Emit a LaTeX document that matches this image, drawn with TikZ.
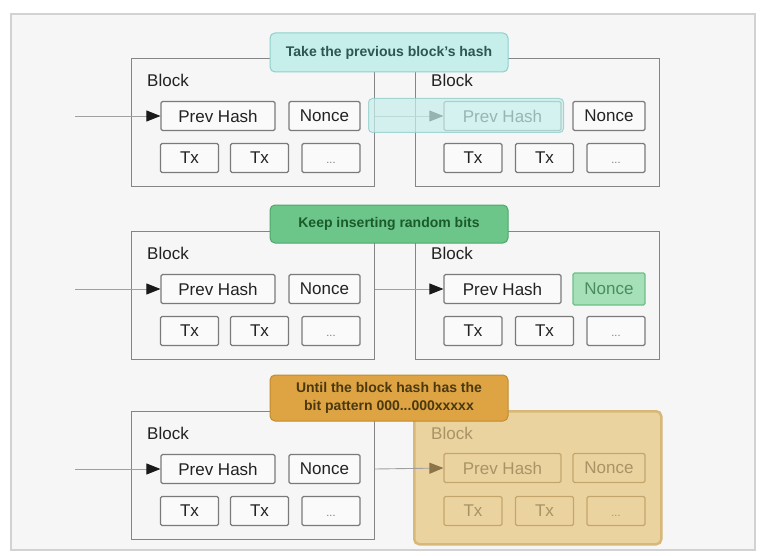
\documentclass[tikz,border=0pt]{standalone}
\usepackage{fontspec}
\setmainfont{Liberation Sans}
\usetikzlibrary{arrows.meta}
\definecolor{blkline}{HTML}{858585}
\definecolor{cellline}{HTML}{7A7A7A}
\definecolor{cellfill}{HTML}{FAFAFA}
\definecolor{txt}{HTML}{222222}
\definecolor{dotc}{HTML}{777777}
\definecolor{connline}{HTML}{A0A0A0}
\definecolor{arrowc}{HTML}{1A1A1A}
\definecolor{framebg}{HTML}{F6F6F6}
\definecolor{frameline}{HTML}{D2D2D2}
\definecolor{cyanfill}{HTML}{C6EFEC}
\definecolor{cyanline}{HTML}{8FCFCB}
\definecolor{cyantext}{HTML}{2C5553}
\definecolor{greenfill}{HTML}{6CC68A}
\definecolor{greenline}{HTML}{4EA86C}
\definecolor{greentext}{HTML}{1B5A2B}
\definecolor{gnfill}{HTML}{A6E0B8}
\definecolor{gnline}{HTML}{6CBF87}
\definecolor{gntext}{HTML}{4A8C5D}
\definecolor{orfill}{HTML}{DEA443}
\definecolor{orline}{HTML}{C28B2F}
\definecolor{ortext}{HTML}{4A3810}
\definecolor{tanfill}{HTML}{EBD3A0}
\definecolor{tanline}{HTML}{D8B878}
\definecolor{tancellc}{HTML}{C4A66C}
\definecolor{tantext}{HTML}{A99365}
\definecolor{tanarrow}{HTML}{8B7548}
\tikzset{
  blk/.style={draw=blkline, line width=1.2pt, inner sep=0pt, anchor=north west},
  tanblk/.style={draw=tanline, fill=tanfill, line width=2.5pt, rounded corners=5pt, inner sep=0pt, anchor=north west},
  cell/.style={draw=cellline, fill=cellfill, line width=1.2pt, rounded corners=1.5pt, inner sep=0pt,
    minimum height=29pt, text=txt, font=\fontsize{17}{20}\selectfont},
  tancell/.style={cell, draw=tancellc, fill=tanfill, text=tantext},
  greencell/.style={cell, draw=gnline, fill=gnfill, text=gntext, minimum height=32pt},
  lbl/.style={anchor=west, inner sep=0pt, text=txt, font=\fontsize{17}{20}\selectfont},
  tanlbl/.style={lbl, text=tantext},
  conn/.style={draw=connline, line width=0.9pt, -{Triangle[length=14pt,width=11pt,color=#1]}},
  conn/.default=arrowc,
  callout/.style={rounded corners=5pt, line width=1pt, minimum width=238pt, inner sep=0pt,
    font=\bfseries\fontsize{14}{18}\selectfont, align=center},
  hl/.style={fill=cyanfill, fill opacity=0.72, draw=cyanline, draw opacity=0.8, line width=1pt,
    rounded corners=4pt, inner sep=0pt, anchor=north west},
}
\newcommand{\dotsbox}{\vphantom{Tx}{\fontsize{11}{13}\selectfont\color{dotc}...}}
\begin{document}
\begin{tikzpicture}[x=1pt,y=-1pt]
\useasboundingbox (0,0) rectangle (765,556);
\fill[white] (0,0) rectangle (765,556);
\draw[fill=framebg, draw=frameline, line width=1.5pt] (11,14) rectangle (755,550);
% left blocks
\foreach \r/\T in {1/58,2/231,3/411}{
  \node[blk, minimum width=243pt, minimum height=128pt] (L\r) at (131,\T) {};
  \node[lbl] (L\r-lbl) at (147,\T+22) {Block};
  \node[cell, minimum width=114pt] (L\r-prev) at (218,\T+58) {Prev Hash};
  \node[cell, minimum width=71pt] (L\r-nonce) at (324.5,\T+58) {Nonce};
  \node[cell, minimum width=58pt] (L\r-tx1) at (189.5,\T+100) {Tx};
  \node[cell, minimum width=58pt] (L\r-tx2) at (259.5,\T+100) {Tx};
  \node[cell, minimum width=58pt] (L\r-tx3) at (331,\T+100) {\dotsbox};
  \coordinate (in\r) at (75,\T+58);
  \draw[conn] (in\r) -- (L\r-prev.west);
}
% right blocks 1 and 2
\foreach \r/\T/\ns in {1/58/cell,2/231/greencell}{
  \node[blk, minimum width=244pt, minimum height=128pt] (R\r) at (415,\T) {};
  \node[lbl] (R\r-lbl) at (431,\T+22) {Block};
  \node[cell, minimum width=117pt] (R\r-prev) at (502.5,\T+58) {Prev Hash};
  \node[cell, minimum width=72pt, \ns] (R\r-nonce) at (609,\T+58) {Nonce};
  \node[cell, minimum width=58pt] (R\r-tx1) at (473,\T+100) {Tx};
  \node[cell, minimum width=58pt] (R\r-tx2) at (544.5,\T+100) {Tx};
  \node[cell, minimum width=58pt] (R\r-tx3) at (616,\T+100) {\dotsbox};
  \draw[conn] (L\r-prev -| L\r.east) -- (R\r-prev.west);
}
% right block 3 (highlighted tan)
\node[tanblk, minimum width=247pt, minimum height=133pt] (R3) at (413,410) {};
\node[tanlbl] (R3-lbl) at (431,433) {Block};
\node[tancell, minimum width=117pt] (R3-prev) at (502.5,468) {Prev Hash};
\node[tancell, minimum width=72pt] (R3-nonce) at (609,468) {Nonce};
\node[tancell, minimum width=58pt] (R3-tx1) at (473,511) {Tx};
\node[tancell, minimum width=58pt] (R3-tx2) at (544.5,511) {Tx};
\node[tancell, minimum width=58pt] (R3-tx3) at (616,511) {\vphantom{Tx}{\fontsize{11}{13}\selectfont\color{tantext}...}};
\draw[conn=tanarrow] (L3-prev -| L3.east) -- (R3-prev.west);
% cyan highlight over previous hash
\node[hl, minimum width=195pt, minimum height=34pt] (hl1) at (368,98) {};
% callouts
\node[callout, fill=cyanfill, draw=cyanline, text=cyantext, minimum height=39pt] (c1) at (389,52.5) {Take the previous block's hash};
\node[callout, fill=greenfill, draw=greenline, text=greentext, minimum height=38pt] (c2) at (389,224) {Keep inserting random bits};
\node[callout, fill=orfill, draw=orline, text=ortext, minimum height=46pt] (c3) at (389,398) {Until the block hash has the\\bit pattern 000...000xxxxx};
\end{tikzpicture}
\end{document}
